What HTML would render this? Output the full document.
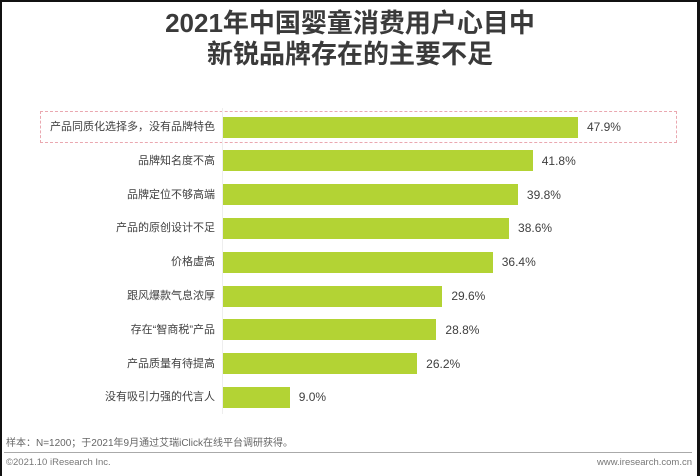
<!DOCTYPE html>
<html><head><meta charset="utf-8"><style>
body{margin:0;width:700px;height:476px;overflow:hidden;background:#fff;font-family:"Liberation Sans","Noto Sans CJK SC",sans-serif;}
#f{position:absolute;left:0;top:0;width:700px;height:476px;box-sizing:border-box;border-top:2px solid #111;border-left:2px solid #111;border-right:3px solid #111;}
.t{position:absolute;left:0;width:700px;text-align:center;font-size:26px;font-weight:bold;color:#3a3a3a;line-height:30px;}
.l{position:absolute;right:485px;font-size:11px;color:#404040;line-height:14px;white-space:nowrap;}
.b{position:absolute;left:223px;height:21px;background:#b3d334;}
.v{position:absolute;font-size:12px;color:#404040;line-height:14px;}
</style></head><body><div id="f"></div>
<div class="t" style="top:8px">2021年中国婴童消费用户心目中</div>
<div class="t" style="top:39px">新锐品牌存在的主要不足</div>
<div style="position:absolute;left:40px;top:111px;width:635px;height:30px;border:1px dashed #eaa8b0;"></div>
<div style="position:absolute;left:222px;top:108px;width:1px;height:306px;background:#eee;"></div>
<div id="rows"></div>
<div style="position:absolute;left:6px;top:434px;font-size:10px;color:#666;">样本：N=1200；于2021年9月通过艾瑞iClick在线平台调研获得。</div>
<div style="position:absolute;left:4px;top:452px;width:688px;height:1px;background:#aaa;"></div>
<div style="position:absolute;left:6px;top:457px;font-size:9.5px;color:#777;">©2021.10 iResearch Inc.</div>
<div style="position:absolute;right:8px;top:457px;font-size:9.5px;color:#777;">www.iresearch.com.cn</div>
<script>
var d=[["产品同质化选择多，没有品牌特色",47.9],["品牌知名度不高",41.8],["品牌定位不够高端",39.8],["产品的原创设计不足",38.6],["价格虚高",36.4],["跟风爆款气息浓厚",29.6],["存在“智商税”产品",28.8],["产品质量有待提高",26.2],["没有吸引力强的代言人",9.0]];
var h="";d.forEach(function(r,i){var c=127+33.8*i,w=r[1]*7.41;
h+='<div class="l" style="top:'+(c-7)+'px">'+r[0]+'</div><div class="b" style="top:'+(c-10.5)+'px;width:'+w+'px"></div><div class="v" style="left:'+(223+w+9)+'px;top:'+(c-7)+'px">'+r[1].toFixed(1)+'%</div>';});
document.getElementById("rows").innerHTML=h;
</script>
</body></html>
